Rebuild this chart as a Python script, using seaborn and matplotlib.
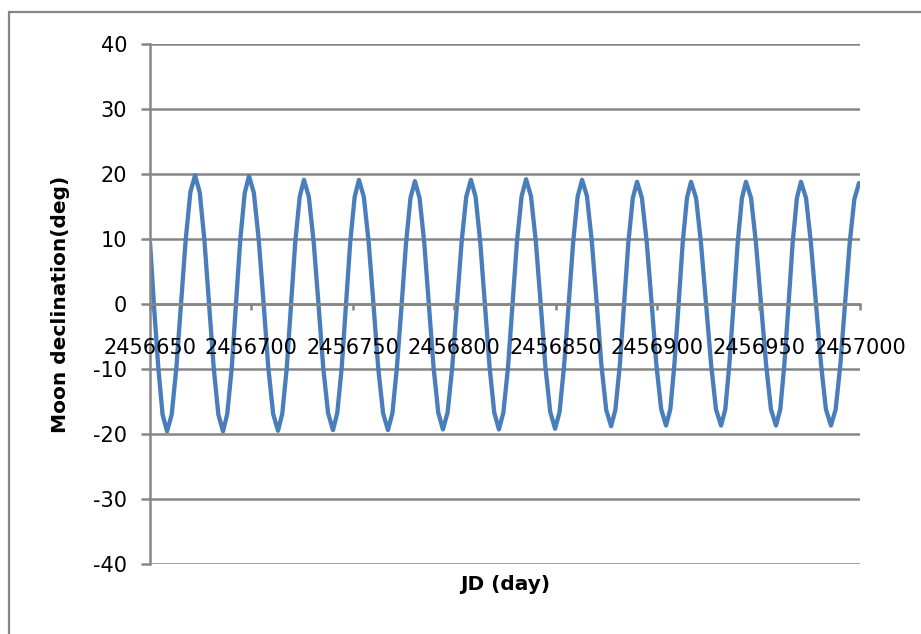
# Moon declination vs Julian date (Excel-style line chart)

import matplotlib.pyplot as plt
from matplotlib.patches import Rectangle
import numpy as np
import pandas as pd
import seaborn as sns


OUTPUT_FILE = "out.png"

JD_START = 2456650

# days after JD_START
day = [
    0.0, 1.9, 4.1, 6.2, 8.4,
    10.7, 13.0, 15.3, 17.6, 19.9, 22.2,
    24.5, 26.8, 29.1, 31.4, 33.7, 36.0,
    38.1, 40.3, 42.4, 44.5, 46.7, 48.8,
    51.2, 53.6, 56.0, 58.3, 60.7, 63.1,
    65.2, 67.4, 69.5, 71.6, 73.8, 75.9,
    78.3, 80.7, 83.1, 85.4, 87.8, 90.2,
    92.3, 94.5, 96.6, 98.7, 100.9, 103.0,
    105.4, 107.8, 110.2, 112.5, 114.9, 117.3,
    119.5, 121.7, 124.0, 126.2, 128.4, 130.6,
    132.9, 135.2, 137.5, 139.8, 142.1, 144.4,
    146.7, 149.0, 151.3, 153.6, 155.9, 158.2,
    160.5, 162.8, 165.1, 167.4, 169.7, 172.0,
    174.2, 176.5, 178.7, 180.9, 183.2, 185.4,
    187.8, 190.2, 192.6, 194.9, 197.3, 199.7,
    201.9, 204.1, 206.4, 208.6, 210.8, 213.0,
    215.4, 217.8, 220.2, 222.5, 224.9, 227.3,
    229.4, 231.6, 233.7, 235.8, 238.0, 240.1,
    242.5, 244.9, 247.3, 249.6, 252.0, 254.4,
    256.5, 258.5, 260.6, 262.6, 264.7, 266.7,
    269.2, 271.6, 274.1, 276.6, 279.0, 281.5,
    283.6, 285.6, 287.7, 289.7, 291.8, 293.8,
    296.3, 298.7, 301.2, 303.7, 306.1, 308.6,
    310.7, 312.7, 314.8, 316.8, 318.9, 320.9,
    323.4, 325.8, 328.3, 330.8, 333.2, 335.7,
    338.0, 340.3, 342.6, 344.9, 347.2, 349.5, 350.0,
]

declination = [
    9.5, 0.0, -9.8, -17.0, -19.6,
    -17.0, -9.8, 0.1, 9.9, 17.2, 19.8,
    17.2, 9.9, 0.1, -9.8, -17.0, -19.6,
    -16.9, -9.8, 0.0, 9.9, 17.1, 19.7,
    17.1, 9.9, 0.1, -9.7, -16.9, -19.5,
    -16.9, -9.9, -0.2, 9.5, 16.5, 19.1,
    16.5, 9.5, -0.2, -9.8, -16.8, -19.4,
    -16.8, -9.8, -0.2, 9.5, 16.5, 19.1,
    16.5, 9.5, -0.2, -9.8, -16.8, -19.4,
    -16.8, -9.8, -0.3, 9.3, 16.3, 18.9,
    16.3, 9.4, -0.2, -9.8, -16.7, -19.3,
    -16.7, -9.7, -0.1, 9.5, 16.5, 19.1,
    16.5, 9.5, -0.1, -9.7, -16.7, -19.3,
    -16.7, -9.7, 0.0, 9.6, 16.6, 19.2,
    16.6, 9.6, 0.0, -9.6, -16.6, -19.2,
    -16.6, -9.6, 0.0, 9.5, 16.5, 19.1,
    16.6, 9.6, 0.2, -9.3, -16.3, -18.8,
    -16.3, -9.4, 0.0, 9.4, 16.3, 18.8,
    16.3, 9.4, 0.1, -9.3, -16.2, -18.7,
    -16.2, -9.3, 0.1, 9.4, 16.3, 18.8,
    16.3, 9.4, 0.1, -9.3, -16.2, -18.7,
    -16.2, -9.3, 0.1, 9.4, 16.3, 18.8,
    16.3, 9.4, 0.1, -9.3, -16.2, -18.7,
    -16.2, -9.3, 0.1, 9.4, 16.3, 18.8,
    16.3, 9.4, 0.1, -9.3, -16.2, -18.7,
    -16.2, -9.4, 0.0, 9.3, 16.1, 18.6, 18.5,
]

x_ticks = [2456650, 2456700, 2456750, 2456800, 2456850, 2456900, 2456950, 2457000]
y_ticks = [-40, -30, -20, -10, 0, 10, 20, 30, 40]

GRAY = "#868686"
BLUE = "#4A7EBB"


def setup_plot_style() -> None:
    sns.set_style("white")
    plt.rcParams["font.family"] = ["DejaVu Sans"]
    plt.rcParams["axes.unicode_minus"] = False
    plt.rcParams["text.color"] = "black"
    plt.rcParams["axes.labelcolor"] = "black"


if __name__ == "__main__":
    setup_plot_style()

    df = pd.DataFrame({"JD": JD_START + np.array(day), "dec": declination})

    fig = plt.figure(figsize=(9.21, 6.34), dpi=100)
    ax = fig.add_axes([150 / 921, 1 - 564 / 634, 710 / 921, 520 / 634])

    # chart frame (cut off on right and bottom like the screenshot)
    fig.patches.append(
        Rectangle((9 / 921, -0.2), 1.5, 0.2 + 1 - 12 / 634, transform=fig.transFigure,
                  fill=False, edgecolor=GRAY, linewidth=1.6)
    )

    sns.lineplot(data=df, x="JD", y="dec", sort=False, estimator=None,
                 color=BLUE, linewidth=3.1, ax=ax, zorder=2,
                 solid_joinstyle="round", solid_capstyle="butt")

    ax.set_xlim(x_ticks[0], x_ticks[-1])
    ax.set_ylim(y_ticks[0], y_ticks[-1])
    ax.set_xticks(x_ticks)
    ax.set_xticklabels([str(t) for t in x_ticks])
    ax.set_yticks(y_ticks)
    ax.set_yticklabels([str(t) for t in y_ticks])

    ax.set_axisbelow(True)
    ax.yaxis.grid(True, color=GRAY, linewidth=1.8)
    ax.xaxis.grid(False)
    ax.xaxis.set_zorder(3)

    for side in ["top", "right"]:
        ax.spines[side].set_visible(False)
    ax.spines["bottom"].set_position(("data", 0))
    ax.spines["bottom"].set_color(GRAY)
    ax.spines["bottom"].set_linewidth(1.8)
    ax.spines["left"].set_color(GRAY)
    ax.spines["left"].set_linewidth(1.8)

    ax.tick_params(axis="x", direction="out", length=4.5, width=1.8, color=GRAY,
                   pad=20, labelsize=15, labelcolor="black", bottom=True)
    ax.tick_params(axis="y", direction="out", length=6.5, width=1.8, color=GRAY,
                   pad=10, labelsize=15, labelcolor="black", left=True)

    ax.set_xlabel("JD (day)", fontsize=14.5, fontweight="bold", color="black")
    ax.set_ylabel("Moon declination(deg)", fontsize=14.5, fontweight="bold", color="black")
    ax.xaxis.set_label_coords(0.5, -0.022)
    ax.yaxis.set_label_coords(-0.113, 0.5)

    fig.savefig(OUTPUT_FILE, dpi=100)
    plt.close(fig)
